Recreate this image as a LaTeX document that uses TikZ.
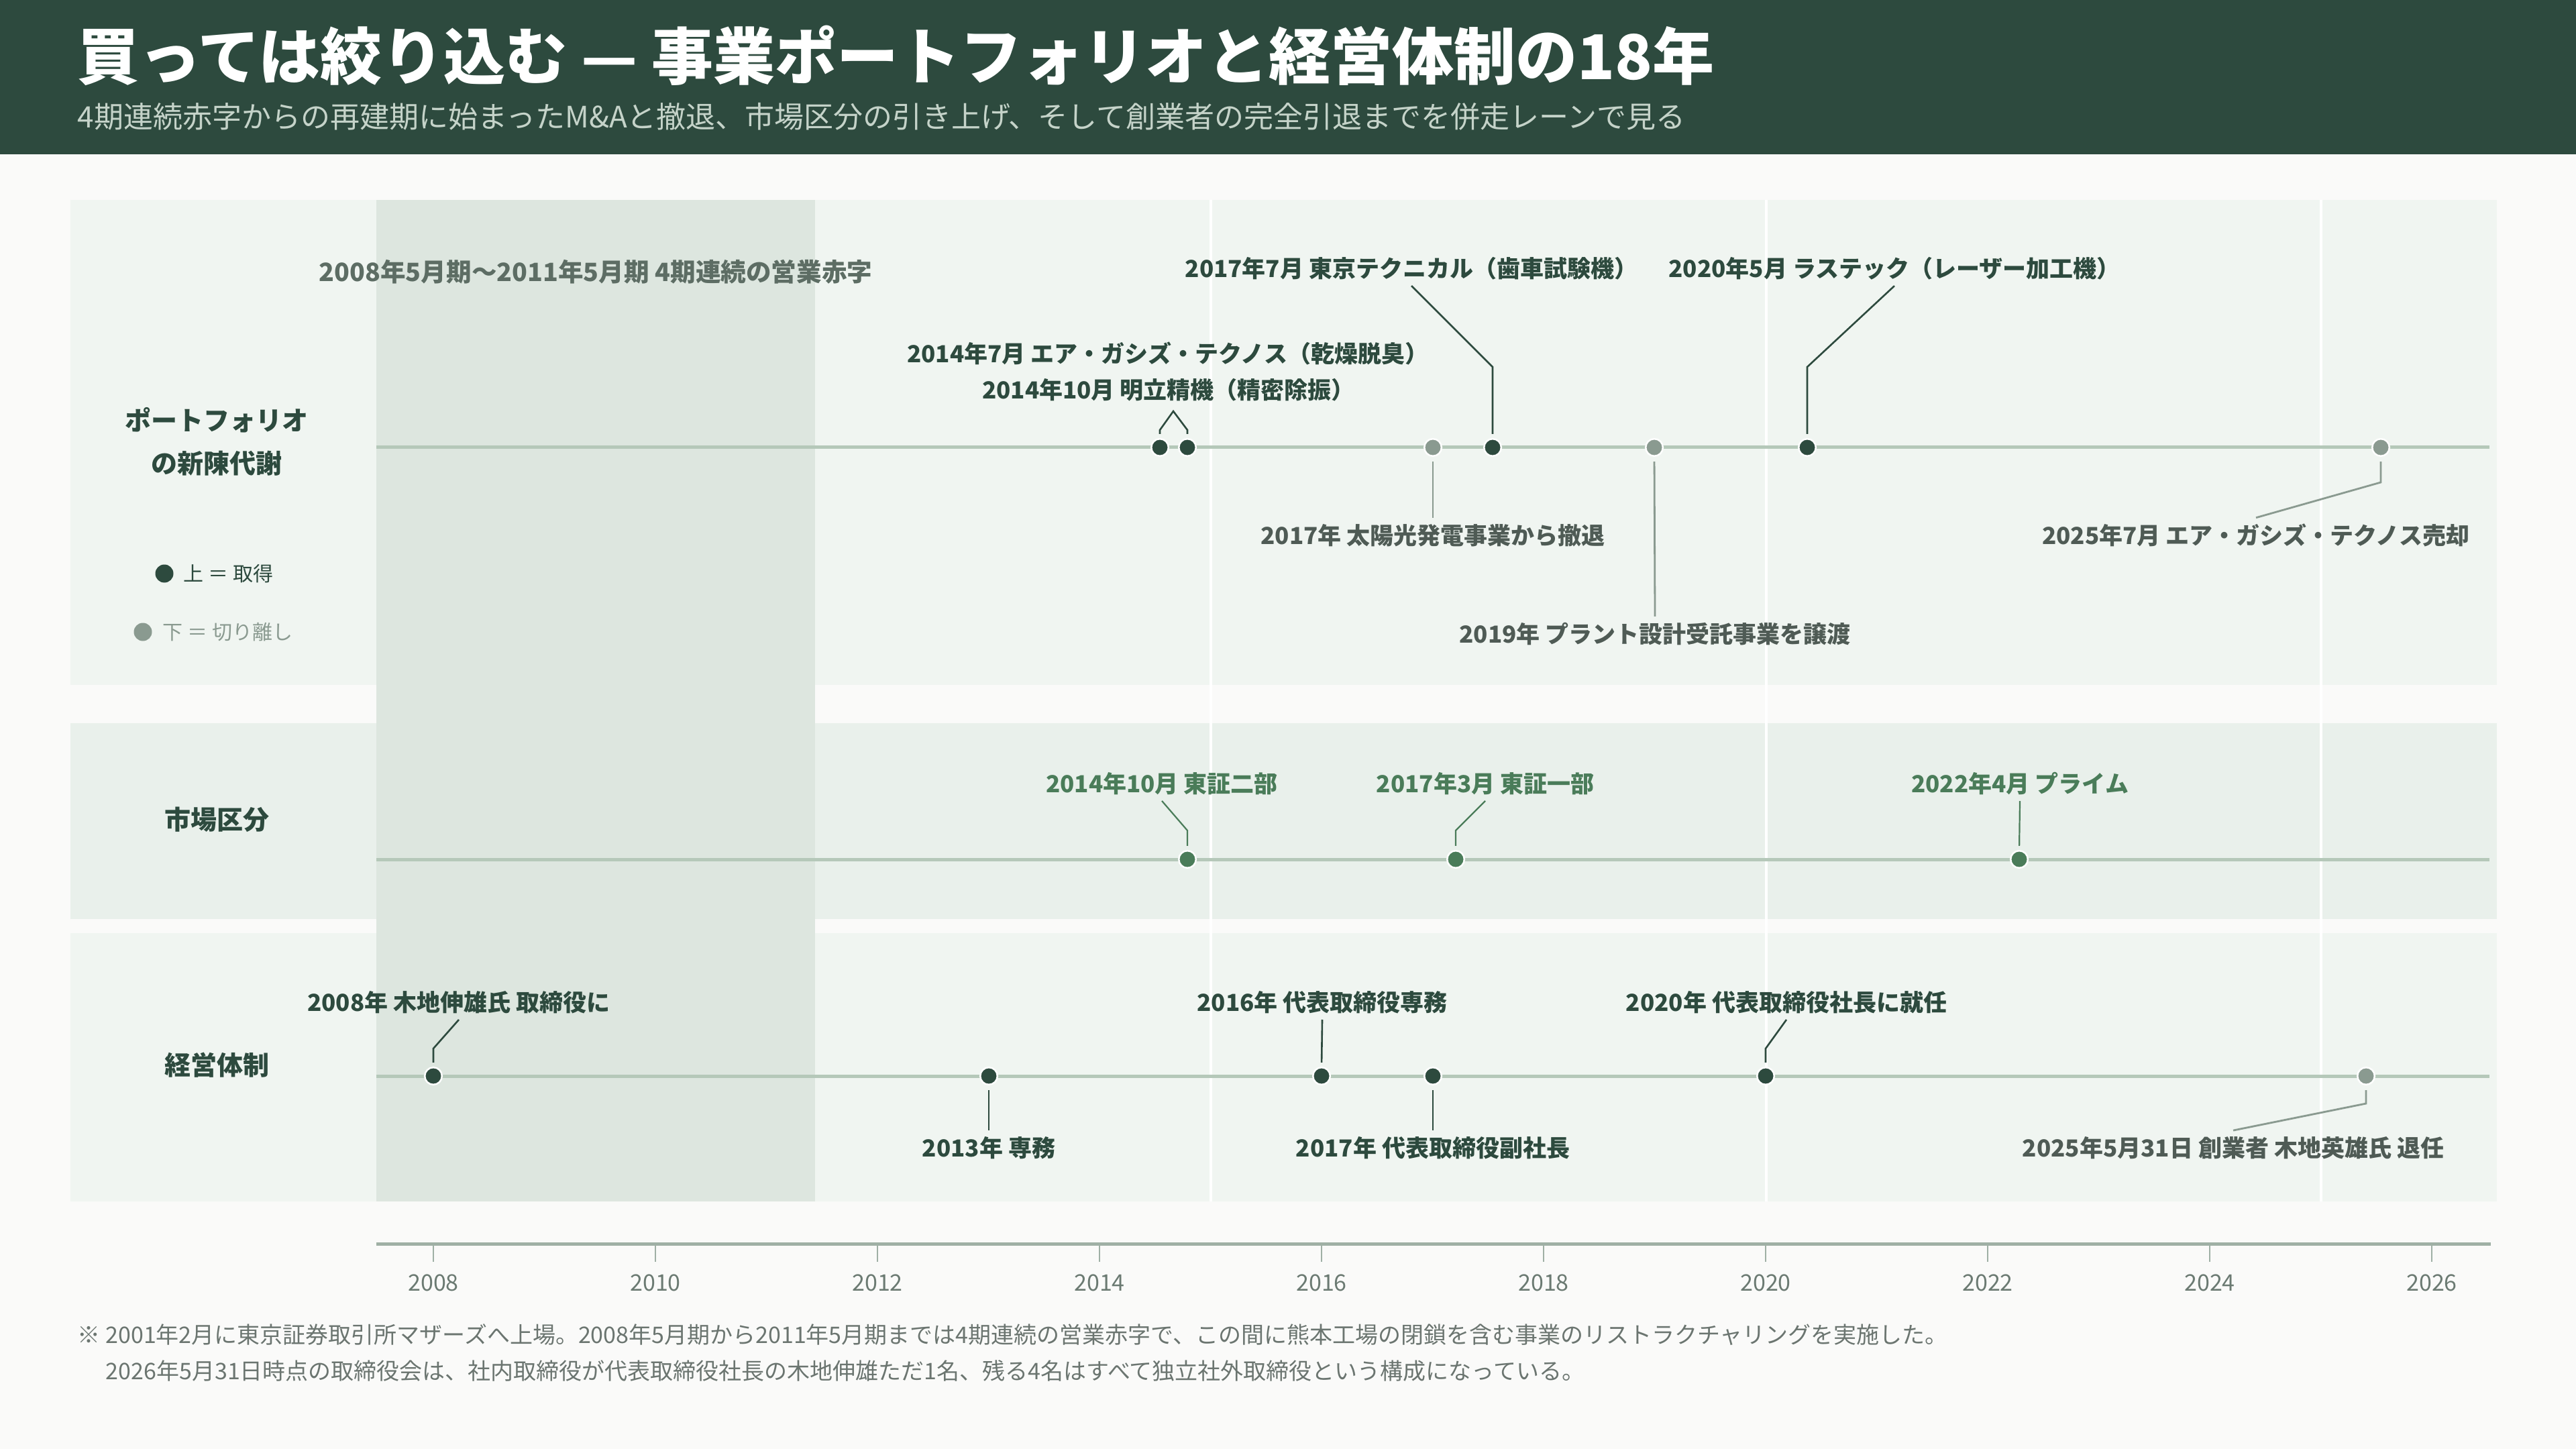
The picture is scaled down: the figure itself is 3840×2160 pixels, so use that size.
\documentclass[tikz,border=0pt]{standalone}
\usepackage{fontspec}
\setmainfont{Noto Sans CJK JP}
\usetikzlibrary{calc}
\definecolor{hdr}{HTML}{2D4A3E}
\definecolor{pagebg}{HTML}{FAFAF9}
\definecolor{laneA}{HTML}{F0F5F1}
\definecolor{laneB}{HTML}{E9F0EB}
\definecolor{redband}{HTML}{DDE6DF}
\definecolor{tl}{HTML}{B5C8B9}
\definecolor{axisc}{HTML}{9FB0A5}
\definecolor{dark}{HTML}{2D4A3E}
\definecolor{greyd}{HTML}{8A9A90}
\definecolor{greytext}{HTML}{4F5B55}
\definecolor{greenm}{HTML}{4A7C59}
\definecolor{subt}{HTML}{C5D3C9}
\definecolor{redlbl}{HTML}{5D6D64}
\definecolor{tick}{HTML}{6B7A72}
\definecolor{foot}{HTML}{6B7570}
\tikzset{
  evlbl/.style={font=\fontsize{8.75}{10}\selectfont\bfseries, inner xsep=0pt, inner ysep=2.1pt},
  acqlbl/.style={evlbl, text=dark},
  divlbl/.style={evlbl, text=greytext},
  mktlbl/.style={evlbl, text=greenm},
  dotbase/.style={circle, inner sep=0pt, minimum size=6.4pt, draw=white, line width=0.625pt},
  dotA/.style={dotbase, fill=dark},
  dotD/.style={dotbase, fill=greyd},
  dotM/.style={dotbase, fill=greenm},
  ldA/.style={draw=dark, line width=0.65pt},
  ldD/.style={draw=greyd, line width=0.7pt},
  ldM/.style={draw=greenm, line width=0.55pt},
  upend/.style={shorten >=1.5pt},
  dnstart/.style={shorten <=1.75pt},
  lanelbl/.style={font=\fontsize{9.75}{16}\selectfont\bfseries, text=dark, align=center, inner sep=0pt},
  timeline/.style={draw=tl, line width=1.25pt},
  vgrid/.style={draw=white, line width=1pt},
  ticklbl/.style={font=\fontsize{8.5}{10}\selectfont, text=tick, inner sep=0pt},
  footlbl/.style={font=\fontsize{8.5}{10}\selectfont, text=foot, inner sep=0pt, anchor=west},
}
\begin{document}
\begin{tikzpicture}[x=0.25pt, y=-0.25pt]
\useasboundingbox (0,0) rectangle (3840,2160);
\fill[pagebg] (0,0) rectangle (3840,2160);
% header
\fill[hdr] (0,0) rectangle (3840,230);
\node[anchor=west, inner sep=0pt, text=white, font=\fontsize{23}{27}\selectfont\bfseries] (title) at (115,83) {買っては絞り込む — 事業ポートフォリオと経営体制の18年};
\node[anchor=west, inner sep=0pt, text=subt, font=\fontsize{11}{13}\selectfont] (subtitle) at (115,174) {4期連続赤字からの再建期に始まったM\&Aと撤退、市場区分の引き上げ、そして創業者の完全引退までを併走レーンで見る};

% lanes
\fill[laneA] (105,298) rectangle (3722,1021);
\fill[laneB] (105,1078) rectangle (3722,1370);
\fill[laneA] (105,1391) rectangle (3722,1791);
\fill[redband] (561,298) rectangle (1215,1791);
\foreach \gx in {1805,2633,3460} \draw[vgrid] (\gx,298) -- (\gx,1791);

% lane labels
\node[lanelbl] (lane1) at (323,658) {ポートフォリオ\\の新陳代謝};
\node[lanelbl] (lane2) at (323,1222) {市場区分};
\node[lanelbl] (lane3) at (323,1588) {経営体制};

% legend
\node[circle, fill=dark, inner sep=0pt, minimum size=6.75pt] (legA) at (245,855) {};
\node[anchor=west, inner sep=0pt, text=dark, font=\fontsize{7.5}{9}\selectfont] (legAt) at (273,855) {上 ＝ 取得};
\node[circle, fill=greyd, inner sep=0pt, minimum size=6.75pt] (legD) at (213,942) {};
\node[anchor=west, inner sep=0pt, text=greyd, font=\fontsize{7.5}{9}\selectfont] (legDt) at (242,942) {下 ＝ 切り離し};

% red period label
\node[evlbl, text=redlbl, font=\fontsize{9.4}{11}\selectfont\bfseries] (redp) at (888,405) {2008年5月期〜2011年5月期 4期連続の営業赤字};

% timelines
\coordinate (t1s) at (561,667); \coordinate (t1e) at (3711,667);
\coordinate (t2s) at (561,1281); \coordinate (t2e) at (3711,1281);
\coordinate (t3s) at (561,1604); \coordinate (t3e) at (3711,1604);
\draw[timeline] (t1s) -- (t1e);
\draw[timeline] (t2s) -- (t2e);
\draw[timeline] (t3s) -- (t3e);

% ---- lane 1: portfolio ----
\node[dotA] (a1) at (1729,667) {};
\node[dotA] (a2) at (1770,667) {};
\node[dotD] (s1) at (2136,667) {};
\node[dotA] (a3) at (2225,667) {};
\node[dotD] (s2) at (2466,667) {};
\node[dotA] (a4) at (2694,667) {};
\node[dotD] (s3) at (3549,667) {};

\node[acqlbl] (la1) at (1741,527) {2014年7月 エア・ガシズ・テクノス（乾燥脱臭）};
\node[acqlbl] (la2) at (1742,581) {2014年10月 明立精機（精密除振）};
\node[acqlbl] (la3) at (2104,400) {2017年7月 東京テクニカル（歯車試験機）};
\node[acqlbl] (la4) at (2824,400) {2020年5月 ラステック（レーザー加工機）};
\node[divlbl] (ls1) at (2136,798) {2017年 太陽光発電事業から撤退};
\node[divlbl] (ls2) at (2467,945) {2019年 プラント設計受託事業を譲渡};
\node[divlbl] (ls3) at (3363,798) {2025年7月 エア・ガシズ・テクノス売却};

\coordinate (apx) at (1749,613);
\draw[ldA, shorten <=1.5pt, shorten >=1.5pt] (a1.north) -- (1729,641) -- (apx) -- (1770,641) -- (a2.north);
\draw[ldA, upend] (la3.south) -- (2225,547) -- (a3.north);
\draw[ldA, upend] (la4.south) -- (2694,547) -- (a4.north);
\draw[ldD, dnstart] (s1.south) -- (ls1.north);
\draw[ldD, dnstart] (s2.south) -- (ls2.north);
\draw[ldD, dnstart] (s3.south) -- (3549,719) -- (ls3.north);

% ---- lane 2: market ----
\node[dotM] (m1) at (1770,1281) {};
\node[dotM] (m2) at (2170,1281) {};
\node[dotM] (m3) at (3010,1281) {};
\node[mktlbl] (lm1) at (1732,1168) {2014年10月 東証二部};
\node[mktlbl] (lm2) at (2214,1168) {2017年3月 東証一部};
\node[mktlbl] (lm3) at (3011,1168) {2022年4月 プライム};
\draw[ldM, upend] (lm1.south) -- (1770,1238) -- (m1.north);
\draw[ldM, upend] (lm2.south) -- (2170,1238) -- (m2.north);
\draw[ldM, upend] (lm3.south) -- (m3.north);

% ---- lane 3: management ----
\node[dotA] (e1) at (646,1604) {};
\node[dotA] (e2) at (1474,1604) {};
\node[dotA] (e3) at (1970,1604) {};
\node[dotA] (e4) at (2136,1604) {};
\node[dotA] (e5) at (2632,1604) {};
\node[dotD] (e6) at (3527,1604) {};
\node[acqlbl] (le1) at (684,1494) {2008年 木地伸雄氏 取締役に};
\node[acqlbl] (le2) at (1474,1711) {2013年 専務};
\node[acqlbl] (le3) at (1971,1494) {2016年 代表取締役専務};
\node[acqlbl] (le4) at (2136,1711) {2017年 代表取締役副社長};
\node[acqlbl] (le5) at (2663,1494) {2020年 代表取締役社長に就任};
\node[divlbl] (le6) at (3329,1711) {2025年5月31日 創業者 木地英雄氏 退任};
\draw[ldA, upend] (le1.south) -- (646,1563) -- (e1.north);
\draw[ldA, dnstart] (e2.south) -- (le2.north);
\draw[ldA, upend] (le3.south) -- (e3.north);
\draw[ldA, dnstart] (e4.south) -- (le4.north);
\draw[ldA, upend] (le5.south) -- (2632,1563) -- (e5.north);
\draw[ldD, dnstart] (e6.south) -- (3527,1645) -- (le6.north);

% ---- axis ----
\coordinate (axs) at (561,1854); \coordinate (axe) at (3713,1854);
\draw[draw=axisc, line width=1.25pt] (axs) -- (axe);
\foreach \yr [evaluate=\yr as \xx using {646+(\yr-2008)*165.5}] in {2008,2010,...,2026} {
  \draw[draw=axisc, line width=0.5pt] (\xx,1856) -- (\xx,1881);
  \node[ticklbl] (tk\yr) at (\xx,1912) {\yr};
}

% ---- footnote ----
\node[footlbl] (fn1) at (115,1990) {※ 2001年2月に東京証券取引所マザーズへ上場。2008年5月期から2011年5月期までは4期連続の営業赤字で、この間に熊本工場の閉鎖を含む事業のリストラクチャリングを実施した。};
\node[footlbl] (fn2) at (157,2043) {2026年5月31日時点の取締役会は、社内取締役が代表取締役社長の木地伸雄ただ1名、残る4名はすべて独立社外取締役という構成になっている。};
\end{tikzpicture}
\end{document}
